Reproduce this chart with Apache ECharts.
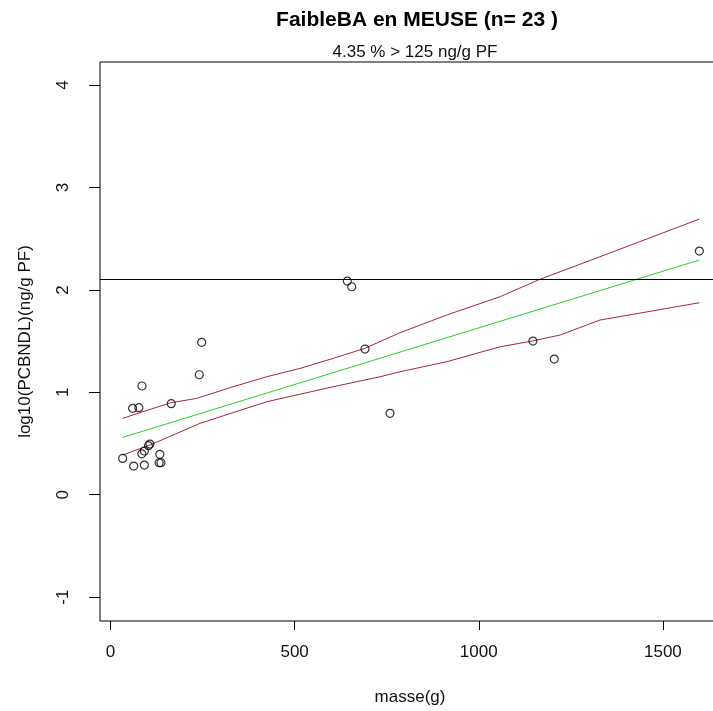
<!DOCTYPE html>
<html>
<head>
<meta charset="utf-8">
<script src="https://cdn.jsdelivr.net/npm/echarts@6/dist/echarts.min.js"></script>
<style>
  html, body { margin: 0; padding: 0; background: #fff; }
  #chart { width: 713px; height: 711px; }
</style>
</head>
<body>
<div id="chart"></div>
<script>
// Fish mass (g) and log10 PCB NDL concentration (ng/g PF)
const masse = [33, 63, 92, 85, 92, 103, 107, 134, 132, 137,
               60, 77, 85.5, 165, 241, 247.6,
               643, 655, 691, 759, 1147, 1205, 1599];
const logPcb = [0.355, 0.28, 0.29, 0.40, 0.427, 0.479, 0.495, 0.395, 0.3125, 0.3125,
                0.844, 0.85, 1.062, 0.889, 1.172, 1.488,
                2.087, 2.031, 1.423, 0.795, 1.501, 1.325, 2.38];

// Fitted regression line
const fitX = [33, 1599];
const fitY = [0.56, 2.292];

// Upper and lower confidence bands
const upperX = [33, 107, 164, 234, 333, 424, 515, 605, 691, 786, 913, 1058, 1166, 1221, 1329, 1599];
const upperY = [0.746, 0.833, 0.898, 0.941, 1.055, 1.152, 1.234, 1.332, 1.43, 1.582, 1.755, 1.934, 2.104, 2.178, 2.324, 2.692];
const lowerX = [33, 107, 243, 424, 605, 732, 786, 913, 1058, 1145, 1221, 1329, 1599];
const lowerY = [0.388, 0.485, 0.697, 0.908, 1.055, 1.152, 1.201, 1.299, 1.445, 1.501, 1.56, 1.706, 1.875];

// Regulatory threshold (ng/g PF)
const seuil = 125;

// Axis ticks
const xTicks = [0, 500, 1000, 1500];
const yTicks = [-1, 0, 1, 2, 3, 4];

const FONT = "'Liberation Sans', Arial, sans-serif";
const zip = (xs, ys) => xs.map((x, i) => [x, ys[i]]);

const chart = echarts.init(document.getElementById('chart'), null, { renderer: 'canvas' });

chart.setOption({
  animation: false,
  backgroundColor: '#fff',
  title: [
    {
      text: 'FaibleBA en MEUSE (n= 23 )',
      left: 412, top: 5, textAlign: 'center',
      textStyle: { fontFamily: FONT, fontSize: 21, fontWeight: 'bold', color: '#000' }
    },
    {
      text: '4.35 % > 125 ng/g PF',
      left: 410, top: 39, textAlign: 'center',
      textStyle: { fontFamily: FONT, fontSize: 17, fontWeight: 'normal', color: '#111' }
    }
  ],
  grid: {
    left: 100, top: 62, width: 620, height: 559,
    outerBoundsMode: 'none', containLabel: false,
    show: true, borderColor: '#000', borderWidth: 1, backgroundColor: 'transparent'
  },
  xAxis: {
    type: 'value', min: -28.5, max: 1655,
    name: 'masse(g)', nameLocation: 'middle', nameGap: 68,
    nameTextStyle: { fontFamily: FONT, fontSize: 17, color: '#111' },
    axisLine: { show: false, onZero: false },
    axisTick: { show: true, length: 9, customValues: xTicks, lineStyle: { color: '#000' } },
    axisLabel: {
      customValues: xTicks, margin: 23, fontFamily: FONT, fontSize: 17, color: '#111',
      formatter: v => String(v)
    },
    splitLine: { show: false }
  },
  yAxis: {
    type: 'value', min: -1.233, max: 4.226,
    name: 'log10(PCBNDL)(ng/g PF)', nameLocation: 'middle', nameGap: 66, nameRotate: 90,
    nameTextStyle: { fontFamily: FONT, fontSize: 17, color: '#111' },
    axisLine: { show: false, onZero: false },
    axisTick: { show: true, length: 11, customValues: yTicks, lineStyle: { color: '#000' } },
    axisLabel: {
      customValues: yTicks, rotate: 90, margin: 28, fontFamily: FONT, fontSize: 17, color: '#111',
      formatter: v => String(v)
    },
    splitLine: { show: false }
  },
  series: [
    {
      type: 'scatter',
      data: zip(masse, logPcb),
      symbol: 'circle', symbolSize: 8,
      itemStyle: { color: 'rgba(255,255,255,0)', borderColor: '#000', borderWidth: 1.2 },
      z: 5
    },
    {
      type: 'line', data: zip(fitX, fitY), showSymbol: false, symbol: 'none',
      lineStyle: { color: '#2ecc2e', width: 1 }
    },
    {
      type: 'line', data: zip(upperX, upperY), showSymbol: false, symbol: 'none',
      lineStyle: { color: '#a02838', width: 1 }
    },
    {
      type: 'line', data: zip(lowerX, lowerY), showSymbol: false, symbol: 'none',
      lineStyle: { color: '#a02838', width: 1 },
      markLine: {
        silent: true, symbol: 'none', label: { show: false },
        lineStyle: { color: '#000', width: 1, type: 'solid' },
        data: [{ yAxis: Math.log10(seuil) }]
      }
    }
  ]
});
</script>
</body>
</html>
